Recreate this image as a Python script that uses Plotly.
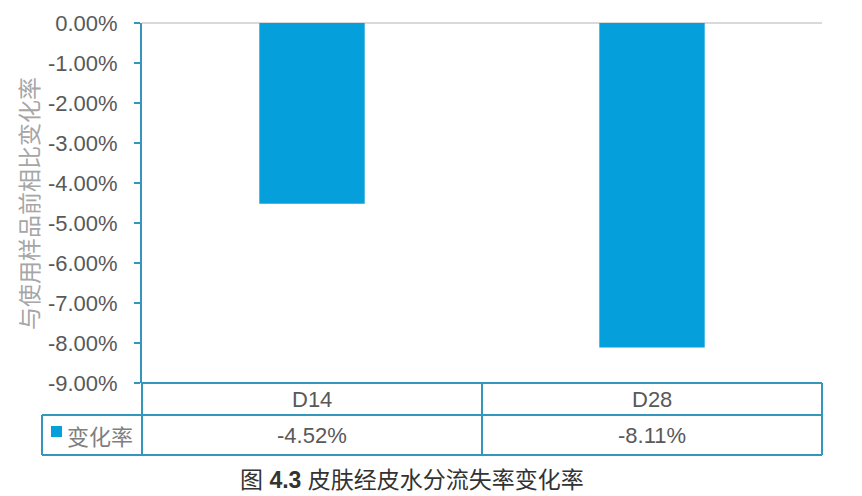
import plotly.graph_objects as go

# data
categories = ["D14", "D28"]
change_rate = [-4.52, -8.11]
series_name = "变化率"
y_ticks = [0, -1, -2, -3, -4, -5, -6, -7, -8, -9]
y_title = "与使用样品前相比变化率"
caption = "图 <b>4.3</b> 皮肤经皮水分流失率变化率"

bar_color = "#05A0DB"
line_color = "#3396BA"
text_color = "#595959"
font_latin = "Liberation Sans, Arial, Noto Sans CJK SC"

fig = go.Figure()
fig.add_trace(go.Bar(x=categories, y=change_rate, name=series_name,
                     marker=dict(color=bar_color, line=dict(width=0))))

# data table under the plot (window pixels -> paper units; page body has an 8px margin)
plot_h = 360.0
plot_w = 680.0
def py(ypix):
    return (383 - ypix) / plot_h
def px(xpix):
    return (xpix - 142) / plot_w

shapes = []
line = dict(color=line_color, width=2)
for yy, x0 in [(383, 142), (415, 42), (455, 42)]:
    shapes.append(dict(type="line", xref="paper", yref="paper",
                       x0=px(x0), x1=px(822), y0=py(yy), y1=py(yy), line=line))
for xx, y0 in [(42, 415), (142, 383), (482, 383), (822, 383)]:
    shapes.append(dict(type="line", xref="paper", yref="paper",
                       x0=px(xx), x1=px(xx), y0=py(y0), y1=py(455), line=line))
# legend key square
shapes.append(dict(type="rect", xref="paper", yref="paper",
                   x0=px(51), x1=px(62), y0=py(437), y1=py(426),
                   fillcolor=bar_color, line=dict(width=0)))

def note(x, y, text, size, color, family, xref="paper", xanchor="center", angle=0):
    return dict(x=x, xref=xref, y=y, yref="paper", text=text, showarrow=False,
                xanchor=xanchor, yanchor="middle", textangle=angle,
                font=dict(size=size, color=color, family=family))

annotations = []
for i, c in enumerate(categories):
    annotations.append(note(c, py(399), c, 22, text_color, font_latin, xref="x"))
    annotations.append(note(c, py(435), f"{change_rate[i]:.2f}%", 22, text_color, font_latin, xref="x"))
annotations.append(note(px(65), py(435), series_name, 22, "#7F7F7F", "Noto Sans CJK SC", xanchor="left"))
annotations.append(note(px(28), py(204), y_title, 23, "#A6A6A6", "Noto Sans CJK SC", angle=-90))
annotations.append(note(px(412), py(480), caption, 23, "#333333", font_latin))

fig.update_layout(
    width=862, height=496,
    margin=dict(l=134, r=48, t=15, b=121),
    paper_bgcolor="white", plot_bgcolor="white",
    showlegend=False, bargap=0.69,
    xaxis=dict(showticklabels=False, showline=False, showgrid=False, zeroline=False,
               ticks="", automargin=False),
    yaxis=dict(range=[-9, 0], tickvals=y_ticks, ticktext=[f"{v:.2f}%" for v in y_ticks],
               automargin=False,
               showgrid=False, zeroline=True, zerolinecolor="#D9D9D9", zerolinewidth=2,
               showline=True, linecolor=line_color, linewidth=2,
               ticks="outside", ticklen=6, tickcolor=line_color, tickwidth=2,
               ticklabelstandoff=12,
               tickfont=dict(size=22, color=text_color, family=font_latin)),
    shapes=shapes, annotations=annotations,
)

fig.write_html("out.html")
